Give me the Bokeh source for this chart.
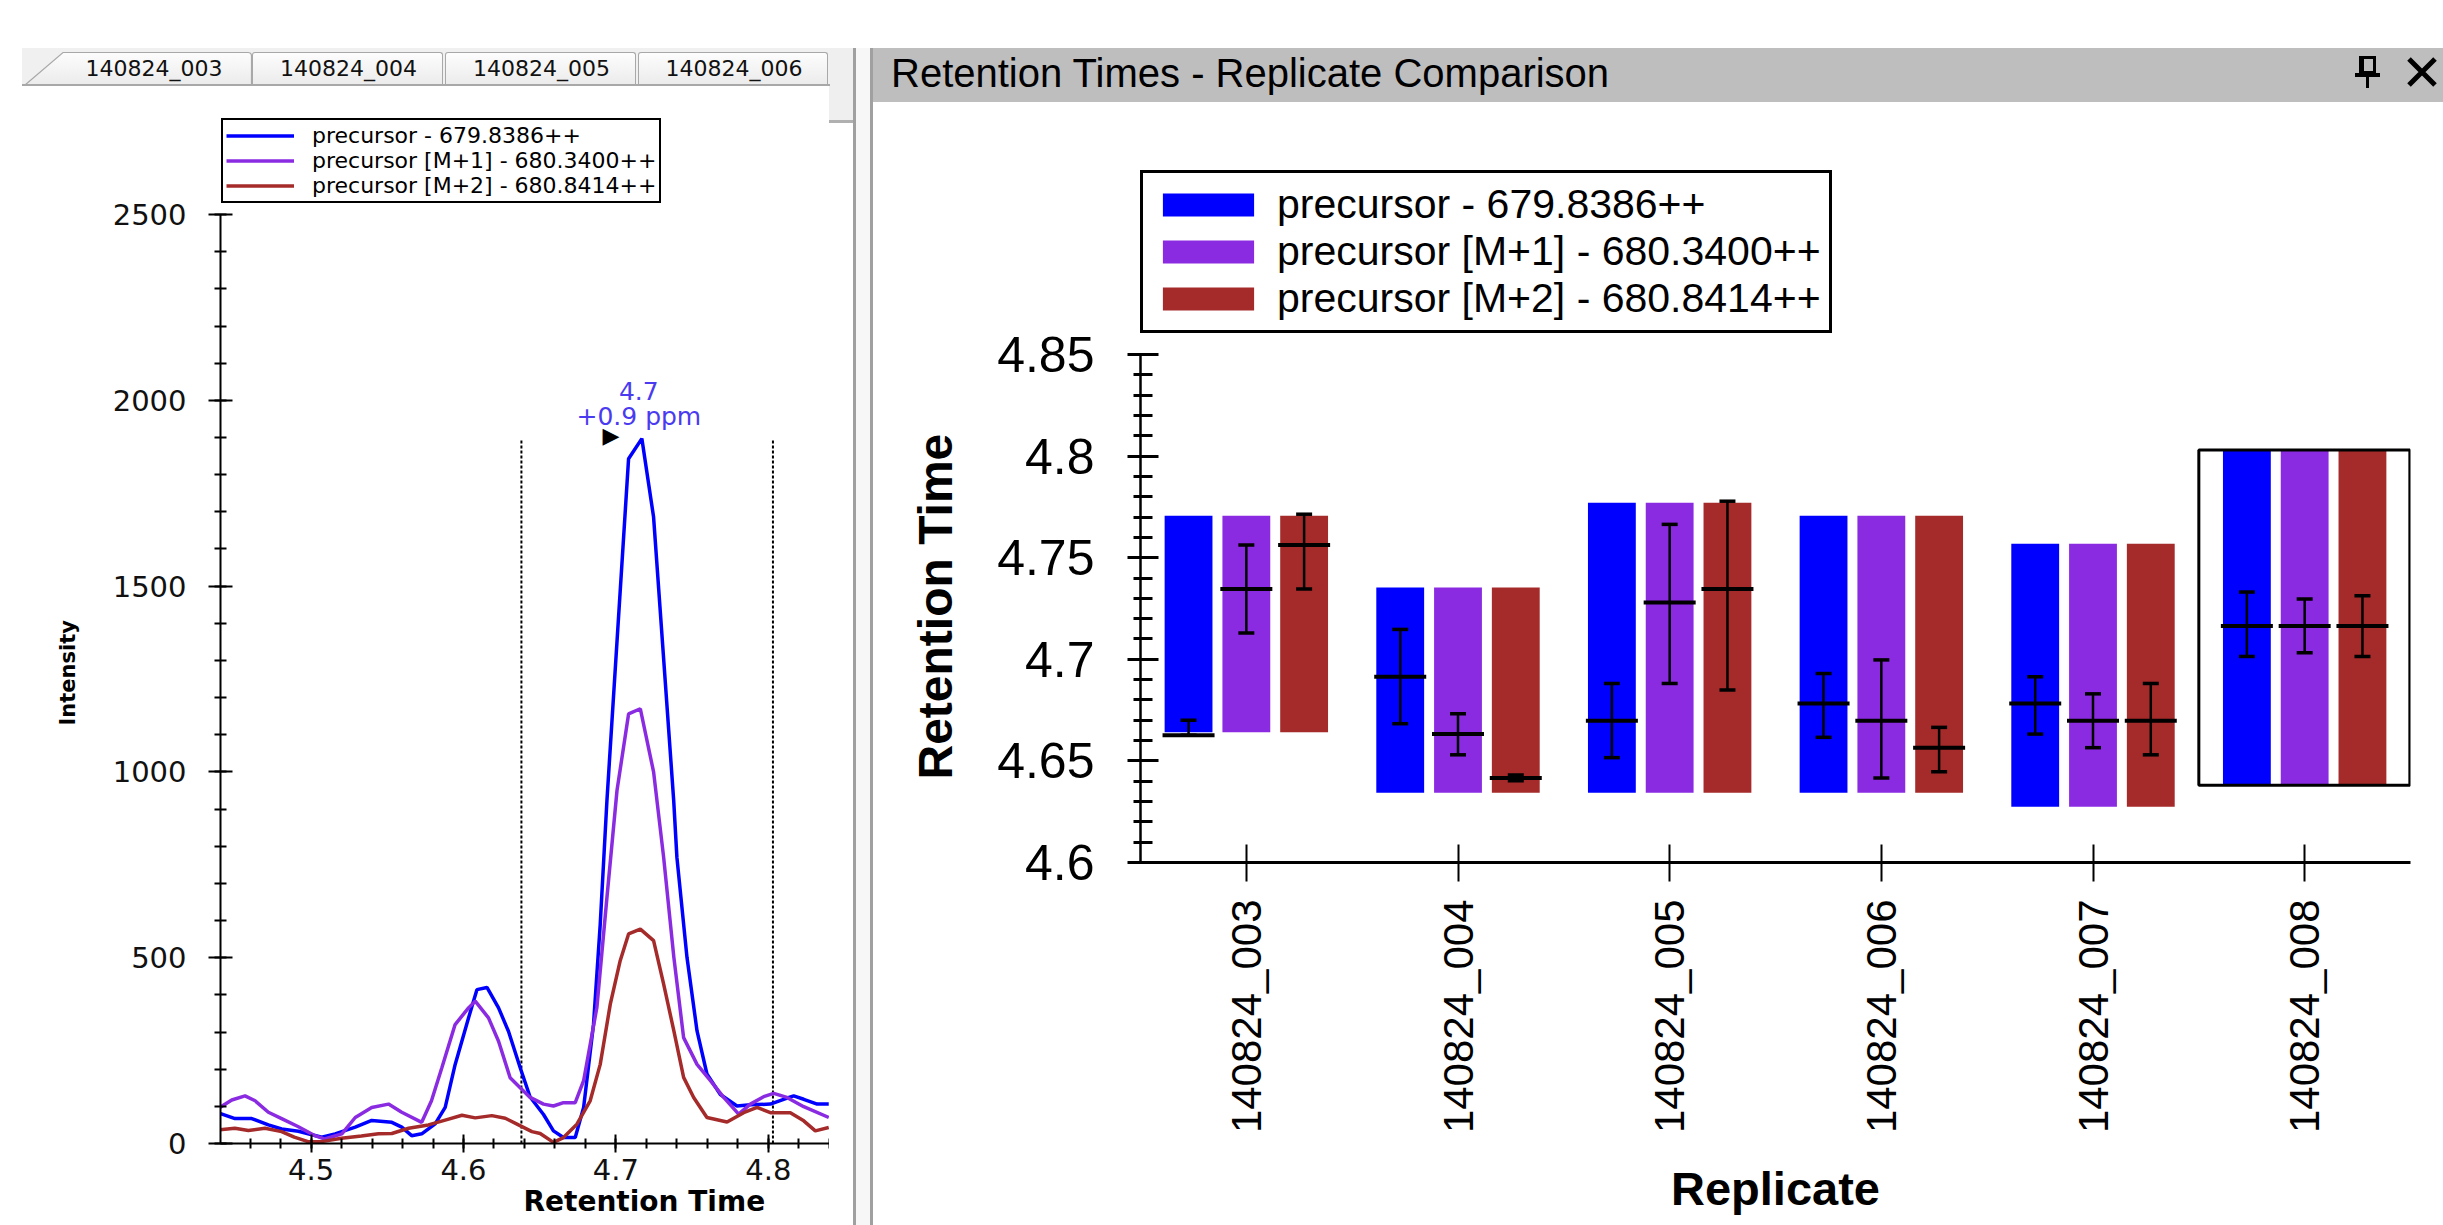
import math
from bokeh.plotting import figure
from bokeh.models import (ColumnDataSource, FactorRange, FixedTicker, Legend, LegendItem,
                          Label, Div, Title, CustomJSTickFormatter)
from bokeh.layouts import row, column
from bokeh.transform import dodge
from bokeh.embed import file_html
from bokeh.resources import INLINE

# ---------------- chromatogram (left panel, replicate 140824_008) ----------------
rt_precursor = [4.4402, 4.4501, 4.4611, 4.4720, 4.4807, 4.4917, 4.5070, 4.5158, 4.5290, 4.5398,
                4.5530, 4.5595, 4.5660, 4.5726, 4.5814, 4.5880, 4.5945, 4.6033, 4.6088, 4.6154,
                4.6230, 4.6295, 4.6372, 4.6437, 4.6525, 4.6590, 4.6656, 4.6733, 4.6788, 4.6853,
                4.6897, 4.6941, 4.7083, 4.7170, 4.7247, 4.7379, 4.7400, 4.7466, 4.7532, 4.7597,
                4.7685, 4.7794, 4.7882, 4.8013, 4.8100, 4.8166, 4.8232, 4.8320, 4.8396]
int_precursor = [81, 67, 67, 50, 39, 33, 17, 26, 44, 62,
                 57, 44, 21, 26, 53, 97, 212, 338, 414, 420,
                 365, 302, 204, 125, 78, 34, 16, 16, 97, 321,
                 590, 923, 1843, 1897, 1686, 923, 770, 501, 303, 187,
                 132, 101, 104, 106, 119, 128, 119, 106, 106]

rt_m1 = [4.4402, 4.4480, 4.4567, 4.4633, 4.4720, 4.4807, 4.4917, 4.5026, 4.5090, 4.5202,
         4.5290, 4.5398, 4.5508, 4.5595, 4.5726, 4.5790, 4.5858, 4.5945, 4.6033, 4.6077,
         4.6164, 4.6230, 4.6306, 4.6372, 4.6437, 4.6525, 4.6590, 4.6656, 4.6733, 4.6788,
         4.6875, 4.6941, 4.7007, 4.7083, 4.7160, 4.7247, 4.7313, 4.7380, 4.7444, 4.7532,
         4.7620, 4.7707, 4.7805, 4.7882, 4.7969, 4.8035, 4.8122, 4.8232, 4.8396]
int_m1 = [97, 117, 128, 115, 84, 67, 45, 21, 12, 26,
          70, 97, 106, 84, 57, 115, 204, 320, 365, 383,
          338, 275, 177, 150, 124, 106, 101, 110, 110, 169,
          366, 662, 950, 1156, 1170, 1000, 770, 501, 285, 213,
          169, 124, 79, 106, 126, 135, 124, 99, 70]

rt_m2 = [4.4402, 4.4500, 4.4589, 4.4698, 4.4807, 4.4890, 4.4980, 4.5070, 4.5200, 4.5330,
         4.5442, 4.5530, 4.5640, 4.5770, 4.5880, 4.5990, 4.6077, 4.6186, 4.6274, 4.6361,
         4.6449, 4.6503, 4.6590, 4.6656, 4.6744, 4.6831, 4.6897, 4.6963, 4.7028, 4.7083,
         4.7160, 4.7247, 4.7313, 4.7380, 4.7444, 4.7510, 4.7597, 4.7729, 4.7838, 4.7926,
         4.8013, 4.8144, 4.8232, 4.8308, 4.8396]
int_m2 = [37, 41, 35, 41, 32, 17, 5, 5, 14, 20,
          26, 27, 41, 50, 63, 76, 69, 75, 68, 50,
          32, 27, 3, 16, 52, 115, 213, 375, 492, 564,
          577, 546, 429, 303, 178, 124, 70, 58, 83, 97,
          83, 83, 61, 34, 43]

peak_start_rt = 4.638
peak_end_rt = 4.803
apex_rt = 4.717
apex_intensity = 1897
apex_text = "4.7"
ppm_text = "+0.9 ppm"

series_names = ["precursor - 679.8386++", "precursor [M+1] - 680.3400++",
                "precursor [M+2] - 680.8414++"]
series_colors = ["#0000ff", "#8a2be2", "#a52a2a"]

left_x_ticks = [4.5, 4.6, 4.7, 4.8]
left_y_ticks = [0, 500, 1000, 1500, 2000, 2500]
tab_labels = ["140824_003", "140824_004", "140824_005", "140824_006"]
window_title = "Retention Times - Replicate Comparison"

# ---------------- replicate comparison (right panel) ----------------
replicates = ["140824_003", "140824_004", "140824_005", "140824_006", "140824_007", "140824_008"]
bar_start = [4.6641, 4.6343, 4.6343, 4.6343, 4.6274, 4.638]
bar_end = [4.7706, 4.7353, 4.7770, 4.7706, 4.7569, 4.803]

rt_prec = [4.6626, 4.6914, 4.6698, 4.6782, 4.6782, 4.7164]
lo_prec = [4.6626, 4.6683, 4.6516, 4.6616, 4.6632, 4.7014]
hi_prec = [4.6700, 4.7147, 4.6881, 4.6930, 4.6914, 4.7331]

rt_m1r = [4.7346, 4.6632, 4.7279, 4.6698, 4.6698, 4.7164]
lo_m1r = [4.7130, 4.6530, 4.6881, 4.6416, 4.6565, 4.7032]
hi_m1r = [4.7562, 4.6732, 4.7664, 4.6997, 4.6830, 4.7297]

rt_m2r = [4.7562, 4.6416, 4.7346, 4.6565, 4.6698, 4.7164]
lo_m2r = [4.7346, 4.6402, 4.6849, 4.6447, 4.6530, 4.7014]
hi_m2r = [4.7714, 4.6430, 4.7778, 4.6665, 4.6881, 4.7313]

selected_replicate = "140824_008"
right_y_ticks = [4.6, 4.65, 4.7, 4.75, 4.8, 4.85]

# =============================== LEFT FIGURE ===============================
LF = "DejaVu Sans"
p1 = figure(width=829, height=1139, x_range=(4.4406, 4.8401), y_range=(0, 2780),
            output_backend="svg", toolbar_location=None,
            min_border_left=220, min_border_right=0, min_border_top=24, min_border_bottom=82)
p1.grid.visible = False
p1.outline_line_color = None
p1.background_fill_color = "white"
p1.border_fill_color = "white"

p1.segment(x0=[peak_start_rt, peak_end_rt], y0=[0, 0], x1=[peak_start_rt, peak_end_rt],
           y1=[apex_intensity, apex_intensity], line_color="black", line_width=2, line_dash="3 2")

line_renderers = []
for xs, ys, col in [(rt_precursor, int_precursor, series_colors[0]),
                    (rt_m1, int_m1, series_colors[1]),
                    (rt_m2, int_m2, series_colors[2])]:
    line_renderers.append(p1.line(xs, ys, line_color=col, line_width=3.5))

minor_x = [round(4.44 + 0.02 * i, 2) for i in range(21)]
xa = p1.xaxis[0]
xa.ticker = FixedTicker(ticks=left_x_ticks, minor_ticks=minor_x)
ya = p1.yaxis[0]
ya.ticker = FixedTicker(ticks=left_y_ticks, minor_ticks=list(range(0, 2501, 100)))
ya.bounds = (0, 2500)
for ax in (xa, ya):
    ax.axis_line_width = 2
    ax.major_tick_line_width = 2
    ax.minor_tick_line_width = 2
    ax.axis_line_color = "black"
    ax.major_tick_line_color = "black"
    ax.minor_tick_line_color = "black"
    ax.major_label_text_font = LF
    ax.major_label_text_font_size = "29px"
    ax.major_label_text_color = "#111111"
xa.major_tick_in = 9
xa.major_tick_out = 9
xa.minor_tick_in = 5
xa.minor_tick_out = 5
xa.major_label_standoff = 6
ya.major_tick_in = 12
ya.major_tick_out = 12
ya.minor_tick_in = 6
ya.minor_tick_out = 6
ya.major_label_standoff = 22

p1.add_layout(Title(text="Retention Time", align="left", offset=303, standoff=0,
                    text_font=LF, text_font_size="28px", text_font_style="bold",
                    text_color="black"), "below")
p1.add_layout(Title(text="Intensity", align="left", offset=418, standoff=60,
                    text_font=LF, text_font_size="21px", text_font_style="bold",
                    text_color="black"), "left")

p1.add_layout(Label(x=apex_rt, y=apex_intensity, text=apex_text, text_align="center",
                    text_baseline="middle", x_offset=-3, y_offset=48, text_font=LF,
                    text_font_size="25px", text_color="#4a3af0"))
p1.add_layout(Label(x=apex_rt, y=apex_intensity, text=ppm_text, text_align="center",
                    text_baseline="middle", x_offset=-3, y_offset=22, text_font=LF,
                    text_font_size="25px", text_color="#4a3af0"))
p1.add_layout(Label(x=apex_rt, y=apex_intensity, text="\u25b6", text_align="center",
                    text_baseline="middle", x_offset=-31, y_offset=3, text_font=LF,
                    text_font_size="22px", text_color="black"))

leg1 = Legend(items=[LegendItem(label=n, renderers=[r]) for n, r in zip(series_names, line_renderers)],
              location=(1, 940), orientation="vertical",
              label_text_font=LF, label_text_font_size="22px", label_text_color="black",
              glyph_width=68, glyph_height=23, label_height=22, label_standoff=18,
              padding=3, spacing=0, margin=0,
              border_line_color="black", border_line_width=2, border_line_alpha=1.0,
              background_fill_color="white", background_fill_alpha=1.0)
p1.add_layout(leg1, "center")

# =============================== RIGHT FIGURE ===============================
RF = "Liberation Sans"
p2 = figure(width=1570, height=1123, x_range=FactorRange(factors=replicates),
            y_range=(4.6, 4.94547),
            output_backend="svg", toolbar_location=None,
            min_border_left=266, min_border_right=33, min_border_top=58, min_border_bottom=363)
p2.grid.visible = False
p2.outline_line_color = None
p2.background_fill_color = "white"
p2.border_fill_color = "white"

src = ColumnDataSource(dict(rep=replicates, start=bar_start, end=bar_end,
                            rt0=rt_prec, lo0=lo_prec, hi0=hi_prec,
                            rt1=rt_m1r, lo1=lo_m1r, hi1=hi_m1r,
                            rt2=rt_m2r, lo2=lo_m2r, hi2=hi_m2r))
offsets = [-0.273, 0.0, 0.273]
bar_renderers = []
for k in range(3):
    xd = dodge("rep", offsets[k], range=p2.x_range)
    vb = p2.vbar(x=xd, bottom="start", top="end", width=0.226, source=src,
                 fill_color=series_colors[k], line_color=None)
    bar_renderers.append(vb)

for k in range(3):
    xd = dodge("rep", offsets[k], range=p2.x_range)
    p2.segment(x0=xd, x1=xd, y0="lo%d" % k, y1="hi%d" % k, source=src,
               line_color="black", line_width=2.5)
    p2.rect(x=xd, y="hi%d" % k, width=16, height=3.5, width_units="screen",
            height_units="screen", source=src, fill_color="black", line_color=None)
    p2.rect(x=xd, y="lo%d" % k, width=16, height=3.5, width_units="screen",
            height_units="screen", source=src, fill_color="black", line_color=None)
    p2.rect(x=xd, y="rt%d" % k, width=52, height=4, width_units="screen",
            height_units="screen", source=src, fill_color="black", line_color=None)

si = replicates.index(selected_replicate)
sel_src = ColumnDataSource(dict(rep=[selected_replicate], start=[bar_start[si]], end=[bar_end[si]]))
p2.quad(left=dodge("rep", -0.5, range=p2.x_range), right=dodge("rep", 0.497, range=p2.x_range),
        bottom="start", top="end", source=sel_src, fill_alpha=0,
        line_color="black", line_width=3)

xa2 = p2.xaxis[0]
ya2 = p2.yaxis[0]
ya2.ticker = FixedTicker(ticks=right_y_ticks, minor_ticks=[round(4.6 + 0.01 * i, 2) for i in range(26)])
ya2.formatter = CustomJSTickFormatter(code="return String(Math.round(tick*100)/100)")
ya2.bounds = (4.6, 4.85)
ya2.axis_line_width = 2.5
ya2.major_tick_line_width = 3
ya2.minor_tick_line_width = 3
ya2.major_tick_in = 18
ya2.major_tick_out = 13
ya2.minor_tick_in = 12
ya2.minor_tick_out = 7
ya2.major_label_text_font = RF
ya2.major_label_text_font_size = "50px"
ya2.major_label_text_color = "black"
ya2.major_label_standoff = 33

p2.add_layout(Title(text="Retention Time", align="left", offset=83, standoff=66,
                    text_font=RF, text_font_size="48px", text_font_style="bold",
                    text_color="black"), "left")

xa2.axis_line_width = 3
xa2.major_tick_line_width = 2
xa2.major_tick_in = 18
xa2.major_tick_out = 19
xa2.major_label_orientation = math.pi / 2
xa2.major_label_text_font = RF
xa2.major_label_text_font_size = "42px"
xa2.major_label_text_color = "black"
xa2.major_label_standoff = 18
xa2.axis_label = "Replicate"
xa2.axis_label_text_font = RF
xa2.axis_label_text_font_size = "47px"
xa2.axis_label_text_font_style = "bold"
xa2.axis_label_text_color = "black"
xa2.axis_label_standoff = 26
for ax in (xa2, ya2):
    ax.axis_line_color = "black"
    ax.major_tick_line_color = "black"
    ax.minor_tick_line_color = "black"

leg2 = Legend(items=[LegendItem(label=n, renderers=[r]) for n, r in zip(series_names, bar_renderers)],
              location=(0, 529), orientation="vertical",
              label_text_font=RF, label_text_font_size="41px", label_text_color="black",
              glyph_width=114, glyph_height=29, label_height=46, label_standoff=12,
              padding=8, spacing=0, margin=0,
              border_line_color="black", border_line_width=3, border_line_alpha=1.0,
              background_fill_color="white", background_fill_alpha=1.0)
p2.add_layout(leg2, "center")

# =============================== WINDOW CHROME ===============================
def box(html, w, h):
    return Div(text=html, width=w, height=h, margin=0)

def blank(w, h, bg="white"):
    return box('<div style="width:%dpx;height:%dpx;background:%s"></div>' % (w, h, bg), w, h)

def tab(label, w, text_left, text_width, slanted=False):
    if slanted:
        shape = ('<svg width="%d" height="38" style="position:absolute;left:0;top:0">'
                 '<defs><linearGradient id="tg1" x1="0" y1="0" x2="0" y2="1">'
                 '<stop offset="0" stop-color="#fdfdfd"/><stop offset="1" stop-color="#ebebeb"/>'
                 '</linearGradient></defs>'
                 '<path d="M 3 37 L 41 4.5 L %d 4.5 Q %.1f 4.5 %.1f 8 L %.1f 37 Z" fill="url(#tg1)" '
                 'stroke="#a8a8a8" stroke-width="1.2"/></svg>'
                 % (w, w - 4, w - 0.5, w - 0.5, w - 0.5))
    else:
        shape = ('<div style="position:absolute;left:0;top:4px;width:%dpx;height:33px;'
                 'background:linear-gradient(#fdfdfd,#ebebeb);border:1px solid #a8a8a8;'
                 'border-bottom:none;border-radius:3px 3px 0 0"></div>' % (w - 2))
    html = ('<div style="position:relative;width:%dpx;height:38px;background:#f0f0f0;overflow:hidden">'
            '%s<div style="position:absolute;left:0;bottom:0;width:%dpx;height:2px;background:#a8a8a8"></div>'
            '<div style="position:absolute;left:%dpx;top:5px;width:%dpx;height:32px;line-height:32px;'
            'text-align:center;font-family:\'DejaVu Sans\';font-size:22px;color:#111;white-space:nowrap">%s</div>'
            '</div>' % (w, shape, w, text_left, text_width, label))
    return box(html, w, 38)

tab_row = row(blank(22, 38),
              tab(tab_labels[0], 230, 34, 196, slanted=True),
              tab(tab_labels[1], 193, 0, 193),
              tab(tab_labels[2], 193, 0, 193),
              tab(tab_labels[3], 192, 0, 192),
              blank(23, 38, "#efefef"), spacing=0)

strip = box('<div style="width:24px;height:37px;background:#efefef;border-bottom:3px solid #b0b0b0"></div>'
            '<div style="width:24px;height:1099px;background:white"></div>', 24, 1139)

left_col = column(blank(853, 48), tab_row, row(p1, strip, spacing=0), spacing=0)

sep = box('<div style="width:20px;height:48px;background:white"></div>'
          '<div style="box-sizing:border-box;width:20px;height:1177px;background:#f7f7f7;'
          'border-left:3px solid #a0a0a0;border-right:3px solid #a0a0a0"></div>', 20, 1225)

title_text = box('<div style="width:1470px;height:54px;background:#bebebe;box-sizing:border-box;'
                 'padding-left:18px;padding-top:3px;line-height:44px;font-family:\'Liberation Sans\';'
                 'font-size:40px;color:#000;white-space:nowrap">%s</div>' % window_title, 1470, 54)
pin_icon = box('<svg width="50" height="54" style="display:block;background:#bebebe">'
               '<rect x="18.5" y="9.5" width="13" height="15" fill="none" stroke="#000" stroke-width="3"/>'
               '<rect x="16" y="8" width="5" height="18" fill="#000"/>'
               '<rect x="12" y="25" width="25" height="4" fill="#000"/>'
               '<rect x="23" y="29" width="3" height="11" fill="#000"/></svg>', 50, 54)
close_icon = box('<svg width="50" height="54" style="display:block;background:#bebebe">'
                 '<path d="M 16 11 L 42 37 M 42 11 L 16 37" stroke="#000" stroke-width="5"/></svg>', 50, 54)
title_row = row(title_text, pin_icon, close_icon, spacing=0)

right_col = column(blank(1570, 48), title_row, p2, spacing=0)

layout = row(left_col, sep, right_col, spacing=0)

open("out.html", "w").write(file_html(layout, INLINE, window_title))
